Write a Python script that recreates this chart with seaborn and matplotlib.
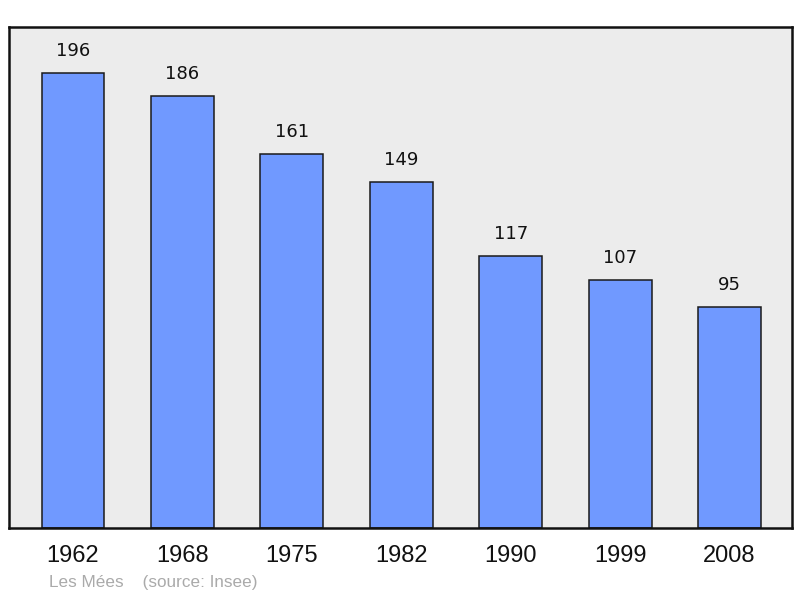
import matplotlib
matplotlib.use("Agg")
import matplotlib.pyplot as plt
import seaborn as sns
import pandas as pd

years = ["1962", "1968", "1975", "1982", "1990", "1999", "2008"]
population = [196, 186, 161, 149, 117, 107, 95]

sns.set_theme(style="white")
plt.rcParams['font.family'] = ['DejaVu Sans']

df = pd.DataFrame({"annee": years, "pop": population})

fig = plt.figure(figsize=(8, 5.98), dpi=100)
ax = fig.add_axes([9 / 800, 1 - 528 / 598, 783 / 800, 501 / 598])
ax.set_facecolor("#ececec")

sns.barplot(data=df, x="annee", y="pop", ax=ax, color="#7099ff",
            saturation=1, width=0.575, edgecolor="#1a1a1a", linewidth=1.1)

for i, v in enumerate(population):
    ax.text(i, v + 9.5, str(v), ha="center", va="center", fontsize=13,
            color="#111111")

ax.set_xlim(-0.585, 6.571)
ax.set_ylim(0, 215.8)
ax.set_yticks([])
ax.set_xlabel("")
ax.set_ylabel("")
ax.tick_params(axis="x", length=0, pad=12, labelsize=17, labelcolor="#111111")
for lbl in ax.get_xticklabels():
    lbl.set_family("Liberation Sans")
for s in ax.spines.values():
    s.set_color("#111111")
    s.set_linewidth(1.8)

fig.text(49 / 800, 1 - 583 / 598, "Les Mées    (source: Insee)", fontsize=12.3,
         color="#aaaaaa", family="Liberation Sans", va="center", ha="left")

fig.savefig("out.png", dpi=100)
